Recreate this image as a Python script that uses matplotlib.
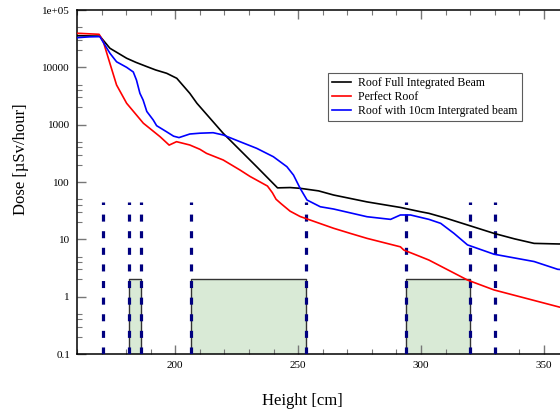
import numpy as np
import matplotlib
matplotlib.use("Agg")
from matplotlib import pyplot as plt
from matplotlib.ticker import FixedLocator, FixedFormatter

plt.rcParams["font.family"] = ["Liberation Serif", "DejaVu Serif"]

# Roof Full Integrated Beam
full_x = [160, 169.3, 173.4, 180.2, 184, 188.4, 192, 196.5, 200.6, 205.9, 208.8, 219.5,
          233.1, 241.6, 246.7, 250.8, 258.3, 264.4, 278, 291.6, 299.8, 303.2, 310,
          318.9, 329.7, 338, 346, 356, 360]
full_y = [35600, 35000, 21500, 14400, 12200, 10300, 9000, 7870, 6440, 3520, 2360, 706,
          185, 79, 80, 77.6, 70, 59.3, 45, 36, 30.3, 28.4, 23.5,
          17.8, 12.7, 10.2, 8.5, 8.3, 8.3]

# Perfect Roof
perf_x = [160, 169, 170.7, 173.4, 176.1, 180.2, 187, 193.8, 197.5, 200.5, 205.9, 210,
          212.7, 219.5, 226.3, 230.4, 233.1, 237.5, 239.5, 241, 243, 246.7, 250.8,
          264.4, 271.2, 278, 291.6, 293, 299.8, 303.2, 318.9, 329.7, 355.6, 360]
perf_y = [39300, 37700, 28000, 11700, 4920, 2360, 1060, 617, 440, 505, 442, 372,
          316, 242, 162, 125, 108, 85, 65, 50, 42, 31, 25,
          15.6, 12.7, 10.4, 7.4, 6.5, 4.98, 4.35, 1.95, 1.31, 0.67, 0.6]

# Roof with 10cm Intergrated beam
part_x = [160, 165, 169.3, 173.4, 176.1, 180.2, 182.9, 184.2, 185.6, 186.9, 188.4, 191,
          192.4, 196.4, 199.3, 201.5, 205.9, 210, 215.4, 219.5, 226.3, 233.1, 239.9,
          245.4, 248.1, 250.8, 253.6, 259, 264.4, 278, 287.6, 291.6, 295.7, 303.2, 308,
          313.4, 318.9, 329.7, 346, 355.6, 360]
part_y = [32900, 34000, 34300, 17600, 12500, 10000, 8300, 6000, 3520, 2690, 1700, 1210,
          960, 754, 630, 595, 687, 710, 724, 661, 505, 387, 276,
          185, 132, 77.6, 48.5, 37, 33.8, 24.8, 22.3, 26.6, 26.6, 22.3, 19,
          12.7, 8, 5.5, 4.1, 3.0, 2.9]

# vertical dashed markers and shaded regions
marker_x = [170.5, 181, 186, 206.5, 253, 294, 320, 330]
marker_top = 45
box_start = [181, 206.5, 294]
box_end = [186, 253, 320]
box_top = 2

ytick_vals = [0.1, 1, 10, 100, 1000, 10000, 1e5]
ytick_labels = ["0.1", "1", "10", "100", "1000", "10000", "1e+05"]
xtick_vals = [200, 250, 300, 350]

fig = plt.figure(figsize=(5.6, 4.09), dpi=100)
ax = fig.add_axes([77 / 560, 55 / 409, 491.5 / 560, 344 / 409])

for x0, x1 in zip(box_start, box_end):
    ax.fill_between([x0, x1], 0.1, box_top, facecolor="#d9ead6", edgecolor="none", zorder=1)
    ax.plot([x0, x0, x1, x1], [0.1, box_top, box_top, 0.1], color="#333333", lw=1.0, zorder=2)

for xm in marker_x:
    ax.plot([xm, xm], [0.1, marker_top], color="#000080", lw=2.3, dashes=(2.2, 3.0), zorder=3)

ax.plot(full_x, full_y, color="black", lw=1.2, label="Roof Full Integrated Beam", zorder=4)
ax.plot(perf_x, perf_y, color="red", lw=1.2, label="Perfect Roof", zorder=4)
ax.plot(part_x, part_y, color="blue", lw=1.2, label="Roof with 10cm Intergrated beam", zorder=4)

ax.set_yscale("log")
ax.set_xlim(160, 360)
ax.set_ylim(0.1, 1e5)

ax.xaxis.set_major_locator(FixedLocator(xtick_vals))
ax.xaxis.set_minor_locator(FixedLocator(np.arange(160, 361, 10)))
ax.yaxis.set_major_locator(FixedLocator(ytick_vals))
ax.yaxis.set_major_formatter(FixedFormatter(ytick_labels))
minor_y = [m * 10.0 ** e for e in range(-1, 5) for m in (2, 3, 4, 5)]
ax.yaxis.set_minor_locator(FixedLocator(minor_y))
ax.yaxis.set_minor_formatter(FixedFormatter([]))

ax.tick_params(which="both", direction="in", top=True, right=True, color="#777777",
               labelsize=8, pad=5)
ax.tick_params(which="major", length=6.5, width=1.0)
ax.tick_params(which="minor", length=3.5, width=0.8)
for s in ax.spines.values():
    s.set_linewidth(1.1)

ax.set_xlabel("Height [cm]", fontsize=12)
ax.set_ylabel("Dose [\u00b5Sv/hour]", fontsize=12)
ax.xaxis.set_label_coords(0.458, -0.112)
ax.yaxis.set_label_coords(-0.098, 0.567)

leg = ax.legend(loc="upper left", bbox_to_anchor=(328 / 560, 1 - 73 / 409),
                bbox_transform=fig.transFigure, fontsize=8.5, frameon=True, fancybox=False,
                borderaxespad=0, handlelength=1.6, handletextpad=0.6, labelspacing=0.15,
                borderpad=0.35)
leg.get_frame().set_edgecolor("#333333")
leg.get_frame().set_linewidth(0.8)

plt.savefig("out.png", dpi=100)
